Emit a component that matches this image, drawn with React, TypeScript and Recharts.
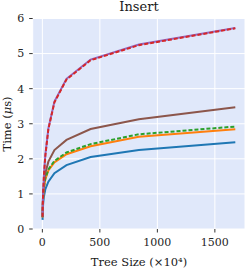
import { CartesianGrid, Line, LineChart, XAxis, YAxis } from "recharts";

// tree sizes in units of 10^4 (2^14 .. 2^24)
const sizes = [1.64, 3.28, 6.55, 13.1, 26.2, 52.4, 104.9, 209.7, 419.4, 838.9, 1677.7];

const blue = [0.26, 0.48, 0.7, 0.92, 1.14, 1.35, 1.59, 1.82, 2.05, 2.25, 2.47];
const orange = [0.33, 0.6, 0.88, 1.15, 1.42, 1.67, 1.9, 2.13, 2.36, 2.63, 2.84];
const green = [0.34, 0.62, 0.9, 1.18, 1.45, 1.7, 1.94, 2.18, 2.42, 2.7, 2.92];
const brown = [0.38, 0.7, 1.0, 1.3, 1.6, 1.92, 2.25, 2.54, 2.85, 3.13, 3.47];
const purple = [0.36, 0.66, 1.01, 1.52, 2.12, 2.87, 3.63, 4.28, 4.83, 5.26, 5.73];
const red = [0.35, 0.65, 1.0, 1.5, 2.1, 2.85, 3.61, 4.26, 4.81, 5.24, 5.72];

const xTicks = [0, 500, 1000, 1500];
const yTicks = [0, 1, 2, 3, 4, 5, 6];

const data = sizes.map((s, i) => ({
    size: s,
    blue: blue[i],
    orange: orange[i],
    green: green[i],
    brown: brown[i],
    purple: purple[i],
    red: red[i],
}));

const font = "'DejaVu Serif', serif";
const tickStyle = { fontFamily: font, fontSize: 11, fill: "#262626" };

export default function App() {
    return (
        <div style={{ position: "absolute", left: 0, top: 0, width: 252, height: 270, background: "#fff" }}>
            <LineChart width={252} height={270} data={data} margin={{ top: 18.5, right: 7, bottom: 0, left: 0 }}>
                <CartesianGrid fill="#e0e8fa" stroke="#fff" strokeWidth={1} />
                <XAxis
                    dataKey="size"
                    type="number"
                    domain={[-84, 1762]}
                    ticks={xTicks}
                    allowDataOverflow
                    height={41}
                    axisLine={false}
                    tickSize={3.5}
                    tickMargin={6}
                    tickLine={{ stroke: "#333" }}
                    tick={tickStyle}
                />
                <YAxis
                    type="number"
                    domain={[0, 6]}
                    ticks={yTicks}
                    allowDataOverflow
                    width={32.7}
                    axisLine={false}
                    tickSize={3.5}
                    tickMargin={5}
                    tickLine={{ stroke: "#333" }}
                    tick={tickStyle}
                />
                <Line dataKey="blue" stroke="#1f77b4" strokeWidth={2} dot={false} isAnimationActive={false} />
                <Line dataKey="orange" stroke="#ff7f0e" strokeWidth={2} dot={false} isAnimationActive={false} />
                <Line dataKey="green" stroke="#2ca02c" strokeWidth={2} strokeDasharray="4 2" dot={false} isAnimationActive={false} />
                <Line dataKey="brown" stroke="#8c564b" strokeWidth={2} dot={false} isAnimationActive={false} />
                <Line dataKey="purple" stroke="#9467bd" strokeWidth={2} dot={false} isAnimationActive={false} />
                <Line dataKey="red" stroke="#d62728" strokeWidth={2} strokeDasharray="4 2" dot={false} isAnimationActive={false} />
            </LineChart>
            <svg width={252} height={270} style={{ position: "absolute", left: 0, top: 0, pointerEvents: "none" }}>
                <text x={139} y={11} textAnchor="middle" fontFamily={font} fontSize={13} fill="#1a1a1a">
                    Insert
                </text>
                <text x={139} y={266} textAnchor="middle" fontFamily={font} fontSize={11.5} fill="#1a1a1a">
                    Tree Size (×10⁴)
                </text>
                <text x={10.5} y={124} textAnchor="middle" fontFamily={font} fontSize={11.5} fill="#1a1a1a" transform="rotate(-90, 10.5, 124)">
                    Time (<tspan fontStyle="italic">μ</tspan>s)
                </text>
            </svg>
        </div>
    );
}
